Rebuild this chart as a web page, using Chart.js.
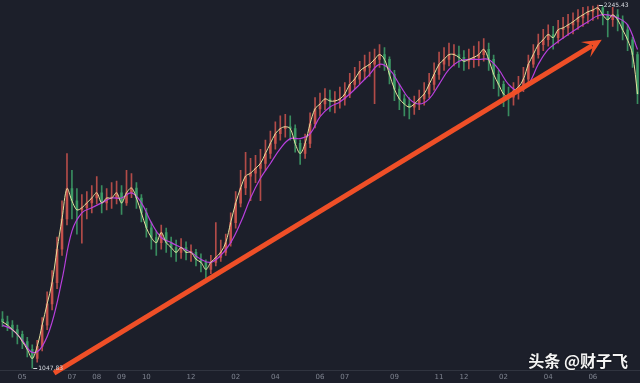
<!DOCTYPE html>
<html>
<head>
<meta charset="utf-8">
<script src="https://cdn.jsdelivr.net/npm/chart.js@4"></script>
<style>
  html, body { margin: 0; padding: 0; background: #1c1f2a; }
  #wrap { width: 640px; height: 383px; position: relative; }
</style>
</head>
<body>
<div id="wrap"><canvas id="kline"></canvas></div>
<script>
// ---- values (one candle ~ one week) ----
const firstOpen = 1210;

const closes = [
  1201, 1190, 1175, 1160, 1136, 1110, 1080, 1120, 1190, 1260,
  1330, 1440, 1540, 1640, 1600, 1570, 1577, 1593, 1609, 1626,
  1593, 1609, 1609, 1626, 1593, 1626, 1642, 1609, 1560, 1511,
  1479, 1462, 1495, 1462, 1446, 1430, 1446, 1430, 1430, 1407,
  1397, 1374, 1397, 1413, 1430, 1462, 1528, 1592, 1642, 1681,
  1691, 1707, 1723, 1756, 1789, 1821, 1838, 1844, 1838, 1789,
  1756, 1789, 1854, 1903, 1919, 1936, 1929, 1929, 1936, 1952,
  1984, 2001, 2027, 2040, 2050, 2066, 2082, 2066, 2017, 1968,
  1936, 1919, 1909, 1919, 1936, 1952, 1984, 2017, 2050, 2066,
  2082, 2082, 2073, 2060, 2066, 2073, 2082, 2099, 2066, 2017,
  1984, 1952, 1942, 1962, 1975, 2001, 2050, 2082, 2115, 2131,
  2148, 2138, 2164, 2170, 2180, 2190, 2203, 2213, 2223, 2229,
  2236, 2213, 2197, 2213, 2197, 2164, 2131, 2082, 1952
];

const highs = [
  1235, 1220, 1205, 1190, 1170, 1150, 1125, 1140, 1215, 1300,
  1370, 1480, 1600, 1756, 1700, 1640, 1620, 1630, 1650, 1680,
  1650, 1640, 1660, 1665, 1650, 1700, 1690, 1660, 1620, 1575,
  1530, 1500, 1520, 1510, 1480, 1470, 1475, 1465, 1455, 1440,
  1425, 1405, 1420, 1528, 1470, 1490, 1560, 1630, 1700, 1760,
  1740, 1750, 1770, 1800, 1830, 1860, 1880, 1885, 1880, 1850,
  1800, 1820, 1890, 1940, 1955, 1970, 1965, 1960, 1975, 1990,
  2020, 2040, 2060, 2080, 2090, 2100, 2115, 2105, 2075, 2030,
  1985, 1950, 1940, 1945, 1965, 1990, 2020, 2055, 2090, 2105,
  2120, 2115, 2110, 2095, 2100, 2110, 2125, 2135, 2120, 2080,
  2030, 1995, 1975, 1990, 2010, 2040, 2080, 2115, 2150, 2165,
  2180, 2175, 2195, 2205, 2215, 2220, 2230, 2238, 2240, 2242,
  2245.43, 2240, 2225, 2238, 2230, 2210, 2180, 2140, 2090
];

const lows = [
  1185, 1172, 1150, 1128, 1112, 1085, 1047.83, 1068, 1105, 1175,
  1240, 1310, 1420, 1520, 1540, 1490, 1460, 1540, 1560, 1590,
  1560, 1570, 1575, 1590, 1555, 1585, 1610, 1575, 1530, 1480,
  1440, 1420, 1440, 1430, 1415, 1400, 1410, 1405, 1400, 1385,
  1365, 1342, 1360, 1385, 1400, 1420, 1450, 1510, 1580, 1620,
  1600, 1660, 1600, 1700, 1740, 1770, 1800, 1810, 1800, 1760,
  1720, 1740, 1775, 1840, 1880, 1900, 1895, 1890, 1905, 1915,
  1940, 1970, 1985, 2000, 2010, 1920, 2040, 2030, 1985, 1930,
  1900, 1880, 1870, 1885, 1900, 1915, 1940, 1965, 2000, 2030,
  2045, 2045, 2040, 2030, 2035, 2040, 2045, 2060, 2030, 1970,
  1945, 1910, 1880, 1915, 1935, 1960, 1985, 2040, 2070, 2095,
  2110, 2100, 2120, 2135, 2145, 2150, 2165, 2175, 2185, 2195,
  2200, 2180, 2140, 2175, 2160, 2130, 2095, 2040, 1920
];

// purple (slow) average, read at every second candle
const slowAvg = [
  1190, 1175, 1140, 1100, 1120, 1200, 1340, 1500, 1560, 1577,
  1593, 1609, 1609, 1626, 1593, 1528, 1479, 1462, 1446, 1430,
  1407, 1397, 1420, 1462, 1528, 1609, 1674, 1723, 1772, 1805,
  1805, 1821, 1877, 1909, 1926, 1952, 1984, 2017, 2050, 2033,
  1984, 1936, 1919, 1936, 1984, 2033, 2060, 2066, 2066, 2066,
  2033, 1984, 1962, 1984, 2050, 2099, 2125, 2148, 2170, 2190,
  2210, 2213, 2203, 2180, 2099
];

// month ticks on the time axis
const tickIndex = [4, 14, 19, 24, 29, 38, 47, 55, 64, 69, 79, 88, 93, 101, 110, 119];
const tickText  = ['05', '07', '08', '09', '10', '12', '02', '04', '06', '07', '09', '11', '12', '02', '04', '06'];

const lowMark  = { index: 6,   value: 1047.83 };
const highMark = { index: 120, value: 2245.43 };
const arrowFrom = { index: 10.4,  value: 1032 };
const arrowTo   = { index: 120.8, value: 2131 };

const UP = 'rgba(204, 84, 78, 0.85)';
const DOWN = 'rgba(62, 160, 104, 0.85)';

// ---- derived ----
const categories = closes.map((_, i) => String(i));
const opens = closes.map((c, i) => (i ? closes[i - 1] : firstOpen));
const candleColors = closes.map((c, i) => (c >= opens[i] ? UP : DOWN));
const slowLine = closes.map((_, i) => (i % 2 ? null : slowAvg[i / 2]));

const bgPlugin = {
  id: 'bg',
  beforeDraw(chart) {
    const ctx = chart.ctx;
    ctx.save();
    ctx.fillStyle = '#1c1f2a';
    ctx.fillRect(0, 0, chart.width, chart.height);
    ctx.restore();
  }
};

const notesPlugin = {
  id: 'notes',
  afterDatasetsDraw(chart) {
    const { ctx, scales: { x, y } } = chart;
    ctx.save();

    // trend arrow
    const x1 = x.getPixelForValue(arrowFrom.index), y1 = y.getPixelForValue(arrowFrom.value);
    const x2 = x.getPixelForValue(arrowTo.index), y2 = y.getPixelForValue(arrowTo.value);
    const a = Math.atan2(y2 - y1, x2 - x1);
    const c = Math.cos(a), s = Math.sin(a);
    const len = 19, half = 9;
    ctx.strokeStyle = '#ef4f27';
    ctx.fillStyle = '#ef4f27';
    ctx.lineWidth = 5;
    ctx.beginPath();
    ctx.moveTo(x1, y1);
    ctx.lineTo(x2 - c * len * 0.6, y2 - s * len * 0.6);
    ctx.stroke();
    ctx.beginPath();
    ctx.moveTo(x2, y2);
    ctx.lineTo(x2 - c * len + s * half, y2 - s * len - c * half);
    ctx.lineTo(x2 - c * len * 0.55, y2 - s * len * 0.55);
    ctx.lineTo(x2 - c * len - s * half, y2 - s * len + c * half);
    ctx.closePath();
    ctx.fill();

    // extreme price tags
    ctx.font = '6px "DejaVu Sans"';
    ctx.textBaseline = 'middle';
    ctx.fillStyle = '#d6d9df';
    ctx.strokeStyle = '#d6d9df';
    ctx.lineWidth = 1;
    [lowMark, highMark].forEach(m => {
      const px = x.getPixelForValue(m.index);
      const py = Math.round(y.getPixelForValue(m.value)) + 0.5;
      ctx.beginPath();
      ctx.moveTo(px + 1, py);
      ctx.lineTo(px + 5, py);
      ctx.stroke();
      ctx.fillText(m.value.toFixed(2), px + 6, py);
    });

    // watermark
    ctx.font = 'bold 16px "Noto Sans CJK SC"';
    ctx.textAlign = 'right';
    ctx.textBaseline = 'alphabetic';
    ctx.shadowColor = 'rgba(0,0,0,0.6)';
    ctx.shadowBlur = 2;
    ctx.fillStyle = '#f4f4f4';
    ctx.fillText('头条 @财子飞', 628, 367);

    ctx.restore();
  }
};

new Chart(document.getElementById('kline'), {
  type: 'bar',
  data: {
    labels: categories,
    datasets: [
      {
        type: 'line',
        label: 'MA fast',
        data: closes,
        borderColor: '#e6e29e',
        borderWidth: 1,
        pointRadius: 0,
        tension: 0.35,
        order: 0
      },
      {
        type: 'line',
        label: 'MA slow',
        data: slowLine,
        borderColor: '#b83fdc',
        borderWidth: 1.2,
        pointRadius: 0,
        tension: 0.4,
        spanGaps: true,
        order: 1
      },
      {
        label: 'body',
        data: opens.map((o, i) => [o, closes[i]]),
        backgroundColor: candleColors,
        barThickness: 2,
        minBarLength: 1,
        grouped: false,
        order: 2
      },
      {
        label: 'wick',
        data: lows.map((l, i) => [l, highs[i]]),
        backgroundColor: candleColors,
        barThickness: 1,
        grouped: false,
        order: 3
      }
    ]
  },
  options: {
    responsive: true,
    maintainAspectRatio: false,
    animation: false,
    events: [],
    layout: { padding: 0 },
    plugins: {
      legend: { display: false },
      tooltip: { enabled: false }
    },
    scales: {
      x: {
        offset: true,
        grid: { display: false, drawTicks: false },
        border: { display: true, color: '#30343f' },
        ticks: {
          autoSkip: false,
          maxRotation: 0,
          padding: 2,
          color: '#7f8490',
          font: { size: 7, family: 'DejaVu Sans' },
          callback: (v, i) => {
            const k = tickIndex.indexOf(i);
            return k < 0 ? null : tickText[k];
          }
        }
      },
      y: {
        display: false,
        min: 1040,
        max: 2262
      }
    }
  },
  plugins: [bgPlugin, notesPlugin]
});
</script>
</body>
</html>
